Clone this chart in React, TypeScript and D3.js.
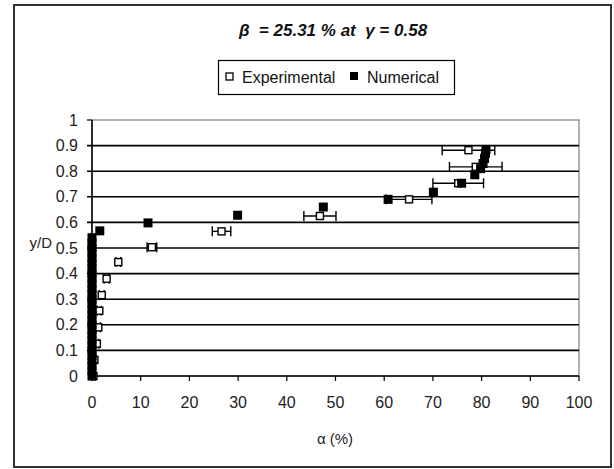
import React from 'react';
import * as d3 from 'd3';

// experimental points: alpha (%), y/D, half width of error bar
const expAlpha = [0.3, 0.5, 1.0, 1.3, 1.5, 2.0, 3.0, 5.4, 12.3, 26.6, 46.8, 65.1, 75.2, 78.8, 77.3];
const expY = [0.0, 0.063, 0.126, 0.19, 0.255, 0.316, 0.38, 0.445, 0.503, 0.565, 0.625, 0.69, 0.753, 0.817, 0.882];
const expErr = [0.3, 0.3, 0.4, 0.4, 0.4, 0.5, 0.5, 0.5, 1.0, 1.9, 3.3, 4.7, 5.2, 5.4, 5.4];

// numerical points
const numAlpha = [
  0, 0, 0, 0, 0, 0, 0, 0, 0, 0, 0, 0, 0, 0, 0, 0, 0, 0, 0, 0, 0, 0, 0, 0, 0, 0, 0, 0,
  1.6, 11.5, 29.9, 47.5, 60.8, 70.1, 75.9, 78.6, 79.8, 80.3, 80.6, 80.8, 80.9,
];
const numY = [
  0.0, 0.02, 0.04, 0.06, 0.08, 0.1, 0.12, 0.14, 0.16, 0.18, 0.2, 0.22, 0.24, 0.26,
  0.28, 0.3, 0.32, 0.34, 0.36, 0.38, 0.4, 0.42, 0.44, 0.46, 0.48, 0.5, 0.52, 0.54,
  0.567, 0.598, 0.628, 0.66, 0.69, 0.718, 0.753, 0.786, 0.81, 0.83, 0.85, 0.87, 0.885,
];

const xTicks = [0, 10, 20, 30, 40, 50, 60, 70, 80, 90, 100];
const yTicks = [0, 0.1, 0.2, 0.3, 0.4, 0.5, 0.6, 0.7, 0.8, 0.9, 1];

const W = 614, H = 469;
const font = '"Liberation Sans", Arial, sans-serif';

export default function App() {
  const x = d3.scaleLinear().domain([0, 100]).range([92, 579]);
  const y = d3.scaleLinear().domain([0, 1]).range([376, 120]);

  return (
    <svg width={W} height={H} style={{ position: 'absolute', left: 0, top: 0, background: '#fff' }}>
      <rect x={14} y={5} width={597} height={462} fill="#fff" stroke="#333" strokeWidth={2} />

      <text x={333} y={36} textAnchor="middle" fontFamily={font} fontSize={17}
        fontWeight="bold" fontStyle="italic" fill="#111" xmlSpace="preserve">
        {'β  = 25.31 % at  γ = 0.58'}
      </text>

      {/* legend */}
      <rect x={218.5} y={60.5} width={236} height={34} fill="#fff" stroke="#000" strokeWidth={1.2} />
      <rect x={226} y={73} width={7} height={7} fill="#fff" stroke="#000" strokeWidth={1.3} />
      <text x={242} y={83} fontFamily={font} fontSize={16} fill="#111">Experimental</text>
      <rect x={350} y={72} width={8} height={8} fill="#000" />
      <text x={367} y={83} fontFamily={font} fontSize={16} fill="#111">Numerical</text>

      {/* plot frame and grid */}
      <rect x={x(0)} y={y(1)} width={x(100) - x(0)} height={y(0) - y(1)} fill="#fff" stroke="#999" strokeWidth={1.5} />
      {yTicks.filter(t => t > 0 && t < 1).map(t => (
        <line key={'g' + t} x1={x(0) - 5} x2={x(100)} y1={y(t)} y2={y(t)} stroke="#000" strokeWidth={1.6} />
      ))}
      <line x1={x(0) - 5} x2={x(0)} y1={y(1)} y2={y(1)} stroke="#000" strokeWidth={1.2} />
      <line x1={x(0)} x2={x(0)} y1={y(1)} y2={y(0)} stroke="#000" strokeWidth={1.5} />
      <line x1={x(0)} x2={x(100)} y1={y(0)} y2={y(0)} stroke="#000" strokeWidth={1.5} />
      {xTicks.map(t => (
        <line key={'xt' + t} x1={x(t)} x2={x(t)} y1={y(0)} y2={y(0) + 5} stroke="#000" strokeWidth={1.2} />
      ))}

      {yTicks.map(t => (
        <text key={'yl' + t} x={78} y={y(t)} dy="0.35em" textAnchor="end" fontFamily={font} fontSize={16} fill="#222">
          {d3.format('~g')(t)}
        </text>
      ))}
      {xTicks.map(t => (
        <text key={'xl' + t} x={x(t)} y={408} textAnchor="middle" fontFamily={font} fontSize={16} fill="#222">
          {t}
        </text>
      ))}
      <text x={52} y={243} dy="0.35em" textAnchor="end" fontFamily={font} fontSize={15} fill="#222">y/D</text>
      <text x={335} y={444} textAnchor="middle" fontFamily={font} fontSize={15} fill="#222">α (%)</text>

      {/* experimental error bars and markers */}
      {expAlpha.map((a, i) => (
        <g key={'e' + i} stroke="#000" strokeWidth={1.4}>
          <line x1={x(a - expErr[i])} x2={x(a + expErr[i])} y1={y(expY[i])} y2={y(expY[i])} />
          <line x1={x(a - expErr[i])} x2={x(a - expErr[i])} y1={y(expY[i]) - 5} y2={y(expY[i]) + 5} />
          <line x1={x(a + expErr[i])} x2={x(a + expErr[i])} y1={y(expY[i]) - 5} y2={y(expY[i]) + 5} />
        </g>
      ))}
      {expAlpha.map((a, i) => (
        <rect key={'em' + i} x={x(a) - 3.5} y={y(expY[i]) - 3.5} width={7} height={7}
          fill="#fff" stroke="#000" strokeWidth={1.4} />
      ))}

      {/* numerical markers */}
      {numAlpha.map((a, i) => (
        <rect key={'n' + i} x={x(a) - 4.5} y={y(numY[i]) - 4.5} width={9} height={9} fill="#000" />
      ))}
    </svg>
  );
}
